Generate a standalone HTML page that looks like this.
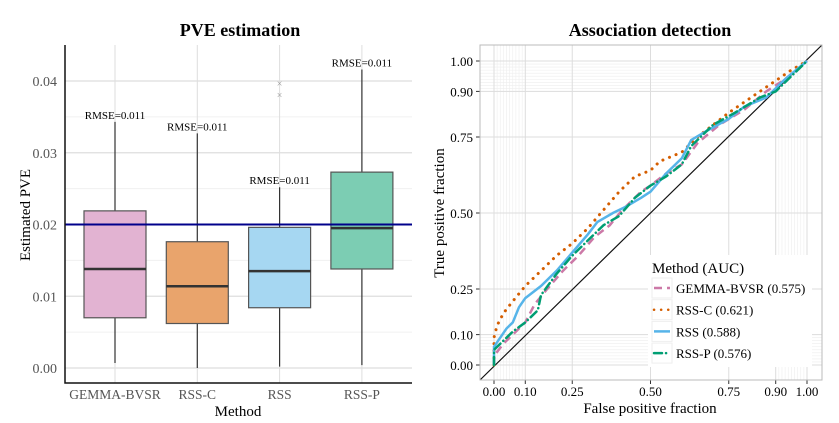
<!DOCTYPE html>
<html><head><meta charset="utf-8"><style>
body{margin:0;background:#fff;}
svg{font-family:"Liberation Serif",serif;display:block}
</style></head><body>
<svg id="s" width="839" height="423">
<text x="240" y="36" font-size="18" font-weight="bold" text-anchor="middle">PVE estimation</text>
<text x="650" y="36" font-size="18" font-weight="bold" text-anchor="middle">Association detection</text>
<text x="238" y="416" font-size="15" text-anchor="middle">Method</text>
<text transform="translate(30,215) rotate(-90)" font-size="15" text-anchor="middle">Estimated PVE</text>
<text x="650" y="413" font-size="15" text-anchor="middle">False positive fraction</text>
<text transform="translate(444,213) rotate(-90)" font-size="15" text-anchor="middle">True positive fraction</text>
<g id="L"></g><g id="R"></g>
</svg>
<script>
const NS="http://www.w3.org/2000/svg";
function mk(p,t,a){const e=document.createElementNS(NS,t);for(const k in a)e.setAttribute(k,a[k]);p.appendChild(e);return e;}
// ---- Box plot data ----
const methods=["GEMMA-BVSR","RSS-C","RSS","RSS-P"];
const q1=[0.0070,0.0062,0.0084,0.0138];
const med=[0.0138,0.0114,0.0135,0.0195];
const q3=[0.0219,0.0176,0.0196,0.0273];
const wLo=[0.0007,0.0000,0.0002,0.0004];
const wHi=[0.0343,0.0327,0.0252,0.0416];
const rmse=["RMSE=0.011","RMSE=0.011","RMSE=0.011","RMSE=0.011"];
const outX=["RSS","RSS"];
const outY=[0.0397,0.0381];
const fills=["#e2b3d2","#e9a46c","#a6d7f2","#7ccdb3"];
const yTicks=[0,0.01,0.02,0.03,0.04];
const truePVE=0.02;
const L=document.getElementById("L");
const ly=v=>368-v*7175;
const lx=i=>115+i*82.3;
const lxm=m=>lx(methods.indexOf(m));
[0.005,0.015,0.025,0.035].forEach(v=>{mk(L,"line",{x1:65,x2:412,y1:ly(v),y2:ly(v),stroke:"#f0f0f0","stroke-width":1});});
yTicks.forEach(v=>{const g=mk(L,"line",{x1:65,x2:412,y1:ly(v),y2:ly(v),stroke:"#dedede","stroke-width":1.3});

const t=mk(L,"text",{x:57,y:ly(v)+5,"font-size":14,fill:"#555","text-anchor":"end"});t.textContent=v.toFixed(2);

});
methods.forEach((m,i)=>{mk(L,"line",{x1:lx(i),x2:lx(i),y1:45,y2:383,stroke:"#dedede","stroke-width":1});});
methods.forEach((m,i)=>{const x=lx(i);
mk(L,"line",{x1:x,x2:x,y1:ly(wLo[i]),y2:ly(wHi[i]),stroke:"#333","stroke-width":1.2});
const r=mk(L,"rect",{x:x-31,y:ly(q3[i]),width:62,height:ly(q1[i])-ly(q3[i]),fill:fills[i],stroke:"#555","stroke-width":1.2});


mk(L,"line",{x1:x-31,x2:x+31,y1:ly(med[i]),y2:ly(med[i]),stroke:"#333","stroke-width":2.5});
const t=mk(L,"text",{x:x,y:ly(wHi[i])-3,"font-size":11,"text-anchor":"middle"});t.textContent=rmse[i];


const xl=mk(L,"text",{x:x,y:399,"font-size":13.5,fill:"#555","text-anchor":"middle"});xl.textContent=m;

});
outY.forEach((v,i)=>{const t=mk(L,"text",{x:lxm(outX[i]),y:ly(v)+4,"font-size":10,fill:"#999","text-anchor":"middle"});t.textContent="×";

});
const hl=mk(L,"line",{x1:65,x2:412,y1:ly(truePVE),y2:ly(truePVE),stroke:"#00008b","stroke-width":2});


mk(L,"path",{d:"M65 45 V383 H412",fill:"none",stroke:"#111","stroke-width":1.5});
// ---- ROC data ----
const rocTicks=[0,0.1,0.25,0.5,0.75,0.9,1];
const names=["GEMMA-BVSR (0.575)","RSS-C (0.621)","RSS (0.588)","RSS-P (0.576)"];
const gFPR=[0,0,0.03,0.07,0.1,0.13,0.17,0.22,0.27,0.32,0.37,0.41,0.47,0.5,0.55,0.6,0.65,0.72,0.8,0.87,0.93,1];
const gTPR=[0,0.03,0.07,0.11,0.14,0.2,0.25,0.31,0.36,0.42,0.46,0.51,0.57,0.59,0.63,0.66,0.73,0.79,0.84,0.9,0.94,1];
const cFPR=[0,0,0.01,0.03,0.06,0.1,0.15,0.2,0.25,0.3,0.35,0.4,0.45,0.5,0.53,0.6,0.65,0.75,0.85,0.95,1];
const cTPR=[0,0.09,0.13,0.17,0.21,0.26,0.31,0.36,0.4,0.45,0.51,0.57,0.62,0.64,0.67,0.7,0.75,0.83,0.9,0.97,1];
const sFPR=[0,0,0.02,0.04,0.06,0.08,0.1,0.15,0.2,0.25,0.3,0.33,0.38,0.42,0.47,0.5,0.55,0.6,0.63,0.68,0.75,0.8,0.87,0.93,1];
const sTPR=[0,0.06,0.09,0.12,0.14,0.19,0.22,0.26,0.31,0.37,0.43,0.47,0.5,0.52,0.55,0.57,0.63,0.68,0.74,0.77,0.81,0.85,0.88,0.94,1];
const pFPR=[0,0,0.03,0.06,0.1,0.14,0.15,0.2,0.25,0.3,0.35,0.4,0.45,0.5,0.55,0.6,0.63,0.7,0.77,0.85,0.9,0.95,1];
const pTPR=[0,0.05,0.08,0.11,0.14,0.18,0.23,0.3,0.36,0.41,0.46,0.49,0.55,0.59,0.62,0.66,0.72,0.79,0.83,0.88,0.9,0.95,1];
const R=document.getElementById("R");
const rx=v=>494+v*313, ry=v=>365-v*304;
mk(R,"rect",{x:480,y:45,width:342,height:335,fill:"#fff"});
for(let v=0.01;v<0.1;v+=0.01){mk(R,"line",{x1:rx(v),x2:rx(v),y1:45,y2:380,stroke:"#eee","stroke-width":0.6});mk(R,"line",{x1:rx(1-v),x2:rx(1-v),y1:45,y2:380,stroke:"#eee","stroke-width":0.6});
mk(R,"line",{x1:480,x2:822,y1:ry(v),y2:ry(v),stroke:"#eee","stroke-width":0.6});mk(R,"line",{x1:480,x2:822,y1:ry(1-v),y2:ry(1-v),stroke:"#eee","stroke-width":0.6});}
rocTicks.forEach(v=>{mk(R,"line",{x1:rx(v),x2:rx(v),y1:45,y2:380,stroke:"#ddd","stroke-width":1});
mk(R,"line",{x1:480,x2:822,y1:ry(v),y2:ry(v),stroke:"#ddd","stroke-width":1});
const a=mk(R,"text",{x:rx(v),y:396,"font-size":13,"text-anchor":"middle"});a.textContent=v.toFixed(2);


const b=mk(R,"text",{x:473,y:ry(v)+5,"font-size":13,"text-anchor":"end"});b.textContent=v.toFixed(2);


mk(R,"line",{x1:476,x2:480,y1:ry(v),y2:ry(v),stroke:"#333"});mk(R,"line",{x1:rx(v),x2:rx(v),y1:380,y2:384,stroke:"#333"});});
mk(R,"line",{x1:480,y1:380,x2:822,y2:45,stroke:"#111","stroke-width":1.2});
const styles=[{c:"#cc79a7",d:"8,5",w:2.5},{c:"#d55e00",d:"0.1,7",w:3,cap:"round"},{c:"#56b4e9",d:"",w:2.5},{c:"#009e73",d:"8,4,0.1,4",w:2.5,cap:"round"}];
const sets=[[gFPR,gTPR],[cFPR,cTPR],[sFPR,sTPR],[pFPR,pTPR]];
const keys=["gemma-bvsr","rss-c","rss","rss-p"];
sets.forEach((s,i)=>{const st=styles[i];
const d=s[0].map((x,j)=>(j?"L":"M")+rx(x).toFixed(1)+" "+ry(s[1][j]).toFixed(1)).join(" ");
const p=mk(R,"path",{d:d,fill:"none",stroke:st.c,"stroke-width":st.w,"stroke-dasharray":st.d,"stroke-linecap":st.cap||"butt"});

});
mk(R,"rect",{x:480,y:45,width:342,height:335,fill:"none",stroke:"#bbb","stroke-width":1});
// legend
const lg=mk(R,"g",{});


mk(lg,"rect",{x:648,y:255,width:164,height:112,fill:"#fff"});
const lt=mk(lg,"text",{x:652,y:273,"font-size":15});lt.textContent="Method (AUC)";
names.forEach((n,i)=>{const y=288+i*21.7;const st=styles[i];
const e=mk(lg,"g",{});


mk(e,"rect",{x:652,y:y-10,width:20,height:20,fill:"#fff",stroke:"#eee"});
mk(e,"line",{x1:654,x2:670,y1:y,y2:y,stroke:st.c,"stroke-width":2.5,"stroke-dasharray":st.d,"stroke-linecap":st.cap||"butt"});
const t=mk(e,"text",{x:676,y:y+5,"font-size":13});t.textContent=n;});
</script>
</body></html>
